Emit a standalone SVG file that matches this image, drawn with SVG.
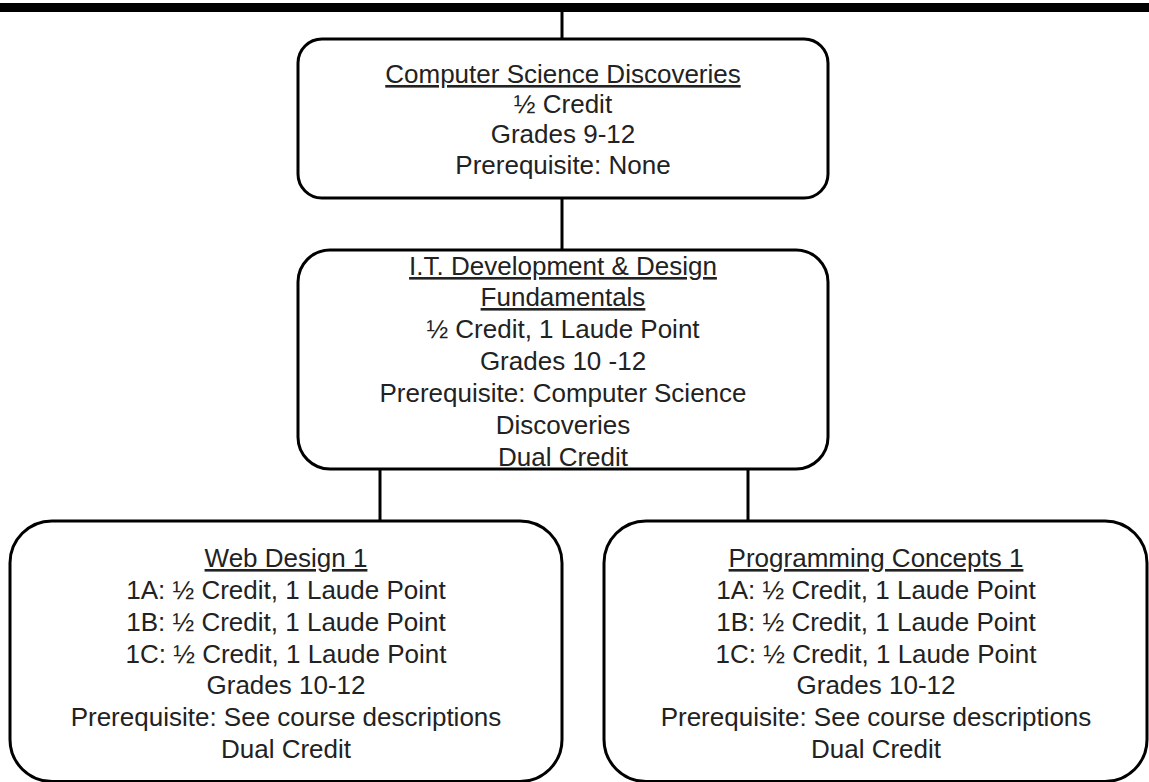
<svg xmlns="http://www.w3.org/2000/svg" width="1149" height="782" viewBox="0 0 1149 782">
<style>
.box{fill:#fff;stroke:#000;stroke-width:3}
.ln{stroke:#000;stroke-width:3;fill:none}
text{font-family:"Liberation Sans",Arial,sans-serif;font-size:26px;fill:#222;text-anchor:middle}
.u{text-decoration:underline}
</style>
<rect x="0" y="0" width="1149" height="782" fill="#fff"/>
<rect x="0" y="3" width="1149" height="9" fill="#000"/>
<g id="connectors">
<line class="ln" x1="562" y1="12" x2="562" y2="39"/>
<line class="ln" x1="562" y1="198" x2="562" y2="250"/>
<line class="ln" x1="380" y1="469" x2="380" y2="521"/>
<line class="ln" x1="748" y1="469" x2="748" y2="521"/>
</g>
<g id="csd">
<rect class="box" x="298" y="39" width="530" height="159" rx="24"/>
<text x="563" y="83" class="u">Computer Science Discoveries</text>
<text x="563" y="113">½ Credit</text>
<text x="563" y="143">Grades 9-12</text>
<text x="563" y="174">Prerequisite: None</text>
</g>
<g id="itdd">
<rect class="box" x="298" y="250" width="530" height="219" rx="32"/>
<text x="563" y="275" class="u">I.T. Development &amp; Design</text>
<text x="563" y="306" class="u">Fundamentals</text>
<text x="563" y="338">½ Credit, 1 Laude Point</text>
<text x="563" y="370">Grades 10 -12</text>
<text x="563" y="402">Prerequisite: Computer Science</text>
<text x="563" y="434">Discoveries</text>
<text x="563" y="466">Dual Credit</text>
</g>
<g id="web">
<rect class="box" x="10" y="521" width="552" height="260.5" rx="42"/>
<text x="286" y="567" class="u">Web Design 1</text>
<text x="286" y="599">1A: ½ Credit, 1 Laude Point</text>
<text x="286" y="631">1B: ½ Credit, 1 Laude Point</text>
<text x="286" y="663">1C: ½ Credit, 1 Laude Point</text>
<text x="286" y="694">Grades 10-12</text>
<text x="286" y="726">Prerequisite: See course descriptions</text>
<text x="286" y="758">Dual Credit</text>
</g>
<g id="prog">
<rect class="box" x="604" y="521" width="543" height="260.5" rx="42"/>
<text x="876" y="567" class="u">Programming Concepts 1</text>
<text x="876" y="599">1A: ½ Credit, 1 Laude Point</text>
<text x="876" y="631">1B: ½ Credit, 1 Laude Point</text>
<text x="876" y="663">1C: ½ Credit, 1 Laude Point</text>
<text x="876" y="694">Grades 10-12</text>
<text x="876" y="726">Prerequisite: See course descriptions</text>
<text x="876" y="758">Dual Credit</text>
</g>
</svg>
